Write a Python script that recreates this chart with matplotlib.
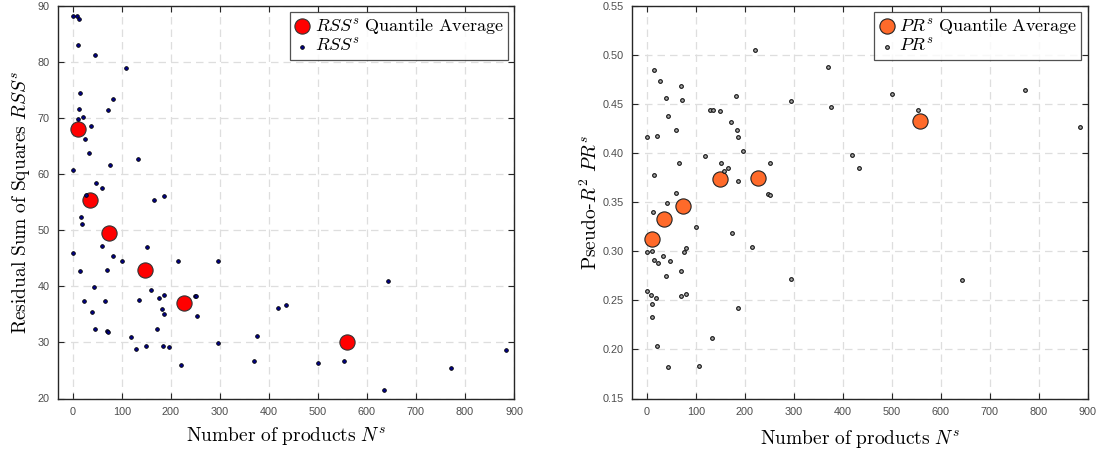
import matplotlib
matplotlib.use("Agg")
import matplotlib.pyplot as plt
import numpy as np

plt.rcParams['mathtext.fontset'] = 'cm'
plt.rcParams['font.family'] = ['Liberation Sans', 'DejaVu Sans']

# ---- Left panel data: RSS^s vs N^s ----
rss_n = [1.4, 9.6, 12.3, 10.2, 45.7, 108, 14.3, 81.6, 12.3, 71.4, 11, 21.8, 38.2, 24.5,
         34, 133.5, 76.3, 1.4, 47.7, 60.6, 28, 166, 187, 16.3, 18.4,
         60, 151.8, 81.6, 100.8, 215.7, 296, 1.4, 15.7, 70.2, 42.9, 159.2, 22.4, 66.7,
         135.5, 175.5, 187.1, 249.8, 252.4, 182.4, 187.1, 253.8, 39.6, 45, 70.2, 72.2,
         171.4, 119.8, 129.4, 150.4, 185.1, 197.3, 221.2, 295.3, 370.2, 376.3,
         419, 434, 643, 500.8, 553, 634, 770.8, 884.5]
rss_v = [88.2, 88.3, 87.7, 83.0, 81.25, 78.9, 74.5, 73.4, 71.6, 71.4, 69.9, 70.2, 68.6, 66.3,
         63.8, 62.7, 61.7, 60.7, 58.4, 57.5, 56.3, 55.4, 56.1, 52.4, 51.1,
         47.2, 47.0, 45.5, 44.6, 44.5, 44.6, 45.9, 42.8, 42.9, 39.8, 39.4, 37.45, 37.45,
         37.55, 37.9, 38.5, 38.3, 38.3, 35.9, 35.0, 34.7, 35.4, 32.4, 32.1, 31.9,
         32.4, 30.9, 28.8, 29.3, 29.3, 29.2, 25.9, 29.95, 26.7, 31.2,
         36.1, 36.7, 41.0, 26.25, 26.7, 21.55, 25.4, 28.6]
rss_q_n = [11, 34.7, 73.5, 148.4, 227.3, 558.6]
rss_q_v = [68.0, 55.4, 49.6, 43.0, 37.1, 30.0]

# ---- Right panel data: PR^s vs N^s ----
pr_n = [0.2, 14.5, 26.1, 38.4, 43.1, 21.4, 59.4, 69, 71.6, 15.3, 65.5, 59.4, 41, 12.4,
        99.6, 118, 128.8, 134.3, 149.2, 171, 181.2, 184.7, 186.7, 196.1, 152, 158.1,
        165.5, 186.7, 251.3, 248, 252, 220.6, 294.9, 369.6, 375.1,
        173.7, 214.5, 0.2, 9.8, 13.9, 23.5, 32.9, 46.5, 37.8, 69, 75.1, 80.6, 0.2, 9.2,
        18, 10.4, 11.2, 70.4, 80.6, 186.7, 293.5, 20, 132.2, 43.9, 107.1,
        499.6, 552.7, 771, 884, 418, 433.6, 642.4]
pr_v = [0.4169, 0.4847, 0.4739, 0.4566, 0.438, 0.418, 0.424, 0.468, 0.4538, 0.3776, 0.3905,
        0.3593, 0.3495, 0.3403, 0.3244, 0.3969, 0.4437, 0.4437, 0.4426, 0.4322, 0.4586,
        0.424, 0.4162, 0.4024, 0.3895, 0.3823, 0.385, 0.3719, 0.3902, 0.3583, 0.3576,
        0.5047, 0.4528, 0.4878, 0.4474,
        0.3183, 0.3047, 0.2993, 0.300, 0.2908, 0.2881, 0.2952, 0.2905, 0.2753, 0.2804,
        0.2990, 0.303, 0.2593, 0.2552, 0.2525, 0.2461, 0.2332, 0.2542, 0.2563, 0.2423,
        0.2718, 0.2039, 0.2115, 0.1823, 0.1833,
        0.4606, 0.4441, 0.4644, 0.4271, 0.3983, 0.3847, 0.2707]
pr_q_n = [9.8, 34.9, 73, 148.6, 226.8, 558.2]
pr_q_v = [0.3128, 0.3332, 0.3463, 0.3742, 0.3752, 0.4329]

x_ticks = [0, 100, 200, 300, 400, 500, 600, 700, 800, 900]
rss_ticks = [20, 30, 40, 50, 60, 70, 80, 90]
pr_ticks = [0.15, 0.20, 0.25, 0.30, 0.35, 0.40, 0.45, 0.50, 0.55]

W, H = 1097, 451
fig = plt.figure(figsize=(W / 100, H / 100), dpi=100)
ax1 = fig.add_axes([58 / W, 1 - 398.5 / H, 456 / W, 392.5 / H])
ax2 = fig.add_axes([632.3 / W, 1 - 398.5 / H, 455.4 / W, 392.5 / H])

spine_col = '#262626'
tick_col = '#4d4d4d'


def style(ax):
    for s in ax.spines.values():
        s.set_color(spine_col)
        s.set_linewidth(1.0)
    ax.tick_params(direction='in', top=True, right=True, length=4, width=0.8,
                   color=spine_col, labelcolor=tick_col, labelsize=7.8, pad=6)
    ax.grid(True, color='#dedede', linestyle=(0, (6, 4)), linewidth=0.9)
    ax.set_axisbelow(True)


BIG = 120
SMALL = 7

# Left
style(ax1)
ax1.scatter(rss_q_n, rss_q_v, s=BIG, c='#ff0000', edgecolors='#333333', linewidths=0.8,
            zorder=3, label=r'$RSS^s$ $\mathrm{Quantile\ Average}$')
ax1.scatter(rss_n, rss_v, s=SMALL, c='#00008b', edgecolors='black', linewidths=0.6,
            zorder=4, label=r'$RSS^s$')
ax1.set_xlim(-30, 900)
ax1.set_ylim(20, 90)
ax1.set_xticks(x_ticks)
ax1.set_yticks(rss_ticks)
ax1.set_xlabel(r'$\mathrm{Number\ of\ products}\ N^s$', fontsize=14, labelpad=6)
ax1.set_ylabel(r'$\mathrm{Residual\ Sum\ of\ Squares}\ RSS^s$', fontsize=14, labelpad=4)
leg1 = ax1.legend(loc='upper right', fontsize=13, frameon=True, fancybox=False,
                  edgecolor='#262626', borderaxespad=0.35, handletextpad=0.2,
                  borderpad=0.2, labelspacing=0.15, handlelength=1.0, scatterpoints=1)
leg1.get_frame().set_linewidth(0.9)

# Right
style(ax2)
ax2.scatter(pr_q_n, pr_q_v, s=BIG, c='#ff6a2a', edgecolors='#222222', linewidths=0.8,
            zorder=3, label=r'$PR^s$ $\mathrm{Quantile\ Average}$')
ax2.scatter(pr_n, pr_v, s=SMALL, c='#a8a8a8', edgecolors='#111111', linewidths=0.8,
            zorder=4, label=r'$PR^s$')
ax2.set_xlim(-30, 900)
ax2.set_ylim(0.15, 0.55)
ax2.set_xticks(x_ticks)
ax2.set_yticks(pr_ticks)
ax2.set_yticklabels([f'{t:.2f}' for t in pr_ticks])
ax2.set_xlabel(r'$\mathrm{Number\ of\ products}\ N^s$', fontsize=14, labelpad=8)
ax2.set_ylabel(r'$\mathrm{Pseudo}$-$R^2\ PR^s$', fontsize=14, labelpad=1)
leg2 = ax2.legend(loc='upper right', fontsize=13, frameon=True, fancybox=False,
                  edgecolor='#262626', borderaxespad=0.35, handletextpad=0.2,
                  borderpad=0.2, labelspacing=0.15, handlelength=1.0, scatterpoints=1)
leg2.get_frame().set_linewidth(0.9)

fig.savefig('out.png', dpi=100)
